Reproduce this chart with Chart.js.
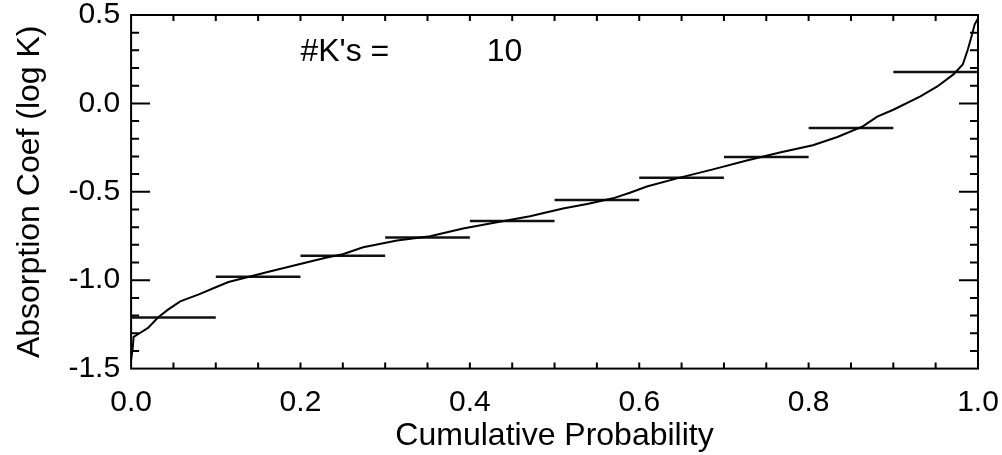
<!DOCTYPE html>
<html>
<head>
<meta charset="utf-8">
<script src="https://cdn.jsdelivr.net/npm/chart.js@4"></script>
<style>
  html, body { margin: 0; padding: 0; background: #fff; }
  #wrap { width: 1002px; height: 455px; position: relative; }
</style>
</head>
<body>
<div id="wrap"><canvas id="kChart"></canvas></div>
<script>
// cumulative probability curve
var cdfX = [0.000, 0.002, 0.003, 0.010, 0.020, 0.032, 0.044, 0.058, 0.080, 0.100,
  0.115, 0.137, 0.160, 0.184, 0.208, 0.231, 0.250, 0.274, 0.314, 0.353,
  0.392, 0.432, 0.471, 0.510, 0.540, 0.569, 0.589, 0.609, 0.648, 0.687,
  0.727, 0.766, 0.805, 0.834, 0.864, 0.881, 0.900, 0.932, 0.952, 0.971,
  0.982, 0.988, 0.993, 0.996, 1.000];
var cdfY = [-1.45, -1.38, -1.32, -1.30, -1.27, -1.21, -1.165, -1.12, -1.08, -1.04,
  -1.01, -0.983, -0.955, -0.927, -0.898, -0.872, -0.853, -0.814, -0.776, -0.751,
  -0.708, -0.672, -0.638, -0.595, -0.567, -0.537, -0.505, -0.470, -0.420, -0.373,
  -0.323, -0.278, -0.237, -0.190, -0.130, -0.075, -0.036, 0.040, 0.096, 0.164,
  0.220, 0.305, 0.390, 0.446, 0.480];

// the 10 k-values, one per probability bin
var binEdges = [0.0, 0.1, 0.2, 0.3, 0.4, 0.5, 0.6, 0.7, 0.8, 0.9, 1.0];
var kValues = [-1.211, -0.980, -0.862, -0.759, -0.665, -0.547, -0.420, -0.303, -0.139, 0.177];

var xTicks = [0.0, 0.2, 0.4, 0.6, 0.8, 1.0];
var yTicks = [-1.5, -1.0, -0.5, 0.0, 0.5];
var xMinorTicks = [0.05, 0.1, 0.15, 0.2, 0.25, 0.3, 0.35, 0.4, 0.45, 0.5,
  0.55, 0.6, 0.65, 0.7, 0.75, 0.8, 0.85, 0.9, 0.95];
var yMinorTicks = [-1.4, -1.3, -1.2, -1.1, -1.0, -0.9, -0.8, -0.7, -0.6, -0.5,
  -0.4, -0.3, -0.2, -0.1, 0.0, 0.1, 0.2, 0.3, 0.4];

var kCountLabel = "#K's =";
var kCountValue = "10";

var FONT = "'Liberation Sans', Arial, Helvetica, sans-serif";

function curvePoints() {
  return cdfX.map(function (x, i) {
    return { x: x, y: cdfY[i] };
  });
}

function binPoints() {
  var pts = [];
  kValues.forEach(function (k, i) {
    pts.push({ x: binEdges[i], y: k });
    pts.push({ x: binEdges[i + 1], y: k });
    pts.push({ x: binEdges[i + 1], y: null });
  });
  return pts;
}

// IDL style box with inward ticks on all four sides, plus the #K's note
var idlFrame = {
  id: "idlFrame",
  afterDatasetsDraw: function (chart) {
    var ctx = chart.ctx;
    var a = chart.chartArea;
    var xs = chart.scales.x;
    var ys = chart.scales.y;

    ctx.save();
    ctx.strokeStyle = "#000";
    ctx.lineWidth = 2;
    ctx.strokeRect(a.left, a.top, a.right - a.left, a.bottom - a.top);

    ctx.beginPath();
    xMinorTicks.forEach(function (v) {
      var px = xs.getPixelForValue(v);
      ctx.moveTo(px, a.bottom);
      ctx.lineTo(px, a.bottom - 6);
      ctx.moveTo(px, a.top);
      ctx.lineTo(px, a.top + 6);
    });
    yMinorTicks.forEach(function (v) {
      var py = ys.getPixelForValue(v);
      var len = Math.abs(v * 2 - Math.round(v * 2)) < 1e-6 ? 19 : 8;
      ctx.moveTo(a.left, py);
      ctx.lineTo(a.left + len, py);
      ctx.moveTo(a.right, py);
      ctx.lineTo(a.right - len, py);
    });
    ctx.stroke();

    ctx.fillStyle = "#000";
    ctx.font = "32px " + FONT;
    ctx.textBaseline = "middle";
    ctx.textAlign = "left";
    var ty = ys.getPixelForValue(0.29);
    ctx.fillText(kCountLabel, xs.getPixelForValue(0.2), ty);
    ctx.fillText(kCountValue, xs.getPixelForValue(0.42), ty);
    ctx.restore();
  },
};

function makeKChart(element) {
  var config = {
    type: "line",
    data: {
      datasets: [
        {
          label: "cdf",
          data: curvePoints(),
          borderColor: "#000",
          borderWidth: 2,
          pointRadius: 0,
          tension: 0,
        },
        {
          label: "k",
          data: binPoints(),
          borderColor: "#111",
          borderWidth: 2.5,
          pointRadius: 0,
          spanGaps: false,
        },
      ],
    },
    options: {
      responsive: true,
      maintainAspectRatio: false,
      animation: false,
      layout: {
        padding: { left: 0, right: 24, top: 15, bottom: 0 },
      },
      plugins: {
        legend: { display: false },
        tooltip: { enabled: false },
      },
      scales: {
        x: {
          type: "linear",
          min: 0,
          max: 1,
          afterBuildTicks: function (scale) {
            scale.ticks = xTicks.map(function (v) {
              return { value: v };
            });
          },
          grid: { display: false, drawTicks: false },
          border: { display: false },
          ticks: {
            color: "#000",
            padding: 0,
            // tall line box pushes the labels down without adding side padding
            font: { family: FONT, size: 30, lineHeight: "68px" },
            maxRotation: 0,
            autoSkip: false,
            callback: function (v) {
              return Number(v).toFixed(1);
            },
          },
          title: {
            display: true,
            text: "Cumulative Probability",
            color: "#000",
            font: { family: FONT, size: 32 },
            padding: { top: -20, bottom: 0 },
          },
        },
        y: {
          type: "linear",
          min: -1.5,
          max: 0.5,
          afterBuildTicks: function (scale) {
            scale.ticks = yTicks.map(function (v) {
              return { value: v };
            });
          },
          grid: { display: false, drawTicks: false },
          border: { display: false },
          ticks: {
            color: "#000",
            padding: 11,
            font: { family: FONT, size: 30, lineHeight: 0.2 },
            autoSkip: false,
            callback: function (v) {
              return Number(v).toFixed(1);
            },
          },
          title: {
            display: true,
            text: "Absorption Coef (log K)",
            color: "#000",
            font: { family: FONT, size: 32 },
            padding: { top: 11, bottom: 8 },
          },
        },
      },
    },
    plugins: [idlFrame],
  };

  return new Chart(element, config);
}

makeKChart(document.getElementById("kChart"));
</script>
</body>
</html>
